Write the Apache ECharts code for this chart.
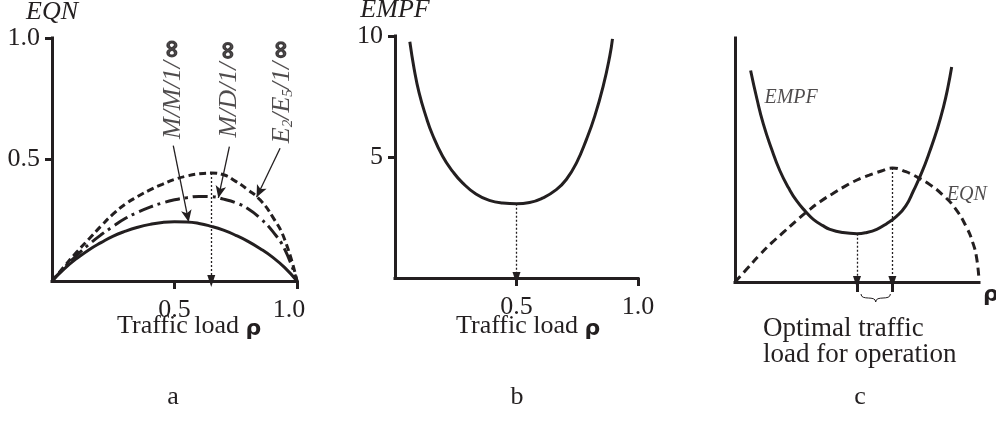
<!DOCTYPE html>
<html>
<head>
<meta charset="utf-8">
<script src="https://cdn.jsdelivr.net/npm/echarts@6/dist/echarts.min.js"></script>
<style>
  html, body { margin: 0; padding: 0; background: #ffffff; }
  #chart { width: 996px; height: 421px; }
</style>
</head>
<body>
<div id="chart"></div>
<script>
// ---- Panel a: expected queue number (EQN) vs. traffic load for three queue models
const loadA = [0, 0.05, 0.1, 0.15, 0.2, 0.25, 0.3, 0.35, 0.4, 0.45, 0.5,
               0.55, 0.6, 0.65, 0.7, 0.75, 0.8, 0.85, 0.9, 0.95, 1.0];
const eqnMM1 = [0, 0.05, 0.092, 0.128, 0.158, 0.185, 0.205, 0.221, 0.233, 0.241, 0.244,
                0.243, 0.237, 0.225, 0.209, 0.188, 0.163, 0.133, 0.098, 0.055, 0];
const eqnMD1 = [0, 0.055, 0.105, 0.15, 0.19, 0.225, 0.258, 0.283, 0.304, 0.321, 0.334,
                0.343, 0.348, 0.347, 0.337, 0.322, 0.297, 0.258, 0.205, 0.13, 0];
const eqnE2E5 = [0, 0.06, 0.118, 0.172, 0.226, 0.276, 0.317, 0.348, 0.375, 0.398, 0.418,
                 0.432, 0.441, 0.444, 0.437, 0.41, 0.375, 0.333, 0.265, 0.17, 0];
const ticksAx = [0.5, 1.0];
const ticksAy = [0.5, 1.0];
const modelLabels = [
  '{it|M/M/1/}{inf|∞}',
  '{it|M/D/1/}{inf|∞}',
  '{it|E}{sub|2}{it|/E}{sub|5}{it|/1/}{inf|∞}'
];
// where each rotated model label sits, and the pointer from it to its curve
const labelAnchorsA = [[0.494, 0.79], [0.722, 0.79], [0.939, 0.78]];
const pointerFromA = [[0.495, 0.557], [0.724, 0.553], [0.931, 0.546]];
const pointerToA = [[0.558, 0.243], [0.679, 0.342], [0.835, 0.345]];

// ---- Panel b: EMPF vs. traffic load
const loadB = [0.061, 0.079, 0.099, 0.127, 0.154, 0.196, 0.237, 0.278, 0.333, 0.388, 0.443,
               0.5, 0.554, 0.609, 0.664, 0.705, 0.747, 0.788, 0.822, 0.857, 0.884, 0.895];
const empfB = [9.76, 8.63, 7.66, 6.69, 5.93, 5.03, 4.41, 3.93, 3.47, 3.21, 3.10,
               3.07, 3.12, 3.31, 3.65, 4.07, 4.76, 5.73, 6.69, 7.94, 9.18, 9.88];
const ticksBx = [0.5, 1.0];
const ticksBy = [5, 10];

// ---- Panel c: both measures together (relative scale)
const loadCempf = [0.064, 0.09, 0.116, 0.15, 0.184, 0.22, 0.253, 0.29, 0.321, 0.36, 0.389, 0.44, 0.5,
                   0.54, 0.581, 0.62, 0.663, 0.70, 0.731, 0.765, 0.799, 0.83, 0.854, 0.872, 0.888];
const empfC = [0.867, 0.75, 0.648, 0.545, 0.456, 0.385, 0.332, 0.288, 0.257, 0.231, 0.216, 0.203, 0.198,
               0.203, 0.216, 0.238, 0.27, 0.312, 0.373, 0.448, 0.538, 0.63, 0.716, 0.795, 0.881];
const loadCeqn = [0, 0.05, 0.1, 0.15, 0.2, 0.25, 0.3, 0.35, 0.4, 0.45, 0.5, 0.55, 0.6, 0.645,
                  0.7, 0.75, 0.8, 0.85, 0.9, 0.95, 0.975, 0.99, 1.0];
const eqnC = [0, 0.055, 0.11, 0.16, 0.205, 0.25, 0.292, 0.33, 0.362, 0.392, 0.418, 0.438, 0.455, 0.467,
              0.452, 0.428, 0.398, 0.358, 0.305, 0.222, 0.16, 0.1, 0.01];
const curveNotesC = ['EMPF', 'EQN'];
const noteAnchorsC = [[0.23, 0.756], [0.95, 0.357]];

const ink = '#231f20';
const serif = '"Liberation Serif", "Times New Roman", serif';
const sans = '"DejaVu Sans", "Liberation Sans", Arial, sans-serif';

const zip = (xs, ys) => xs.map((x, i) => [x, ys[i]]);
const argExt = (ys, cmp) => ys.reduce((best, v, i) => (cmp(v, ys[best]) ? i : best), 0);

const iPeakA = argExt(eqnE2E5, (a, b) => a > b);
const peakA = [loadA[iPeakA], eqnE2E5[iPeakA]];
const iMinB = argExt(empfB, (a, b) => a < b);
const minB = [loadB[iMinB], empfB[iMinB]];
const iMinC = argExt(empfC, (a, b) => a < b);
const minC = [loadCempf[iMinC], empfC[iMinC]];
const iPeakC = argExt(eqnC, (a, b) => a > b);
const peakC = [loadCeqn[iPeakC], eqnC[iPeakC]];
const optimumC = [minC[0], peakC[0]];

// the last x label of panel a sits a little inside the axis end
const tickLabelA = v => (v === 1 ? '{end|' + v.toFixed(1) + '}' : v.toFixed(1));

function xAxisCfg(gridIndex, max, ticks, showLabels, fmt, extra) {
  return Object.assign({
    type: 'value', gridIndex, min: 0, max,
    axisLine: { show: true, onZero: false, lineStyle: { color: ink, width: 3, cap: 'square' } },
    axisTick: { show: true, length: 8, customValues: ticks, lineStyle: { color: ink, width: 3 } },
    axisLabel: {
      show: showLabels, customValues: ticks, margin: 16,
      formatter: fmt,
      fontFamily: serif, fontSize: 26, color: ink,
      rich: { end: { fontFamily: serif, fontSize: 26, color: ink, padding: [0, 16, 0, 0] } }
    },
    splitLine: { show: false }
  }, extra || {});
}

function yAxisCfg(gridIndex, max, ticks, fmt, name) {
  return {
    type: 'value', gridIndex, min: 0, max,
    name: name, nameLocation: 'end', nameGap: 7,
    nameTextStyle: { fontFamily: serif, fontStyle: 'italic', fontSize: 26, color: ink, align: 'center' },
    axisLine: { show: true, onZero: false, lineStyle: { color: ink, width: 3, cap: 'square' } },
    axisTick: { show: ticks.length > 0, length: 7, customValues: ticks, lineStyle: { color: ink, width: 3 } },
    axisLabel: {
      show: ticks.length > 0, customValues: ticks, margin: 12,
      formatter: fmt, fontFamily: serif, fontSize: 26, color: ink
    },
    splitLine: { show: false }
  };
}

const curveLine = (type) => ({ color: ink, width: 3, type });

const dropLine = (pt) => ({
  silent: true, animation: false,
  symbol: ['none', 'triangle'], symbolSize: [8, 12],
  lineStyle: { color: ink, width: 1.3, type: [2, 2] },
  label: { show: false },
  data: [[{ coord: pt }, { coord: [pt[0], 0] }]]
});

const loadText = {
  text: '{t|Traffic load }{r|ρ}', verticalAlign: 'middle',
  rich: {
    t: { fontFamily: serif, fontSize: 26, fill: ink },
    r: { fontFamily: sans, fontWeight: 'bold', fontSize: 22, fill: ink, padding: [6, 0, 0, 0] }
  }
};

const option = {
  backgroundColor: '#ffffff',
  animation: false,
  grid: [
    { left: 52, top: 38, width: 245, height: 243, outerBoundsMode: 'none' },
    { left: 395, top: 36, width: 243, height: 242, outerBoundsMode: 'none' },
    { left: 735, top: 38, width: 244, height: 244, outerBoundsMode: 'none' }
  ],
  xAxis: [
    xAxisCfg(0, 1, ticksAx, true, tickLabelA),
    xAxisCfg(1, 1, ticksBx, true, v => v.toFixed(1)),
    xAxisCfg(2, 1, optimumC, false, null, {
      axisTick: { show: true, length: 10, customValues: optimumC, lineStyle: { color: ink, width: 3 } },
      name: 'ρ', nameLocation: 'end', nameGap: 4,
      nameTextStyle: { fontFamily: sans, fontWeight: 'bold', fontSize: 22, color: ink,
        verticalAlign: 'top', padding: [2, 0, 0, 0] }
    })
  ],
  yAxis: [
    yAxisCfg(0, 1, ticksAy, v => v.toFixed(1), 'EQN'),
    yAxisCfg(1, 10, ticksBy, v => String(v), 'EMPF'),
    yAxisCfg(2, 1, [], null, '')
  ],
  series: [
    // panel a
    { type: 'line', name: 'M/M/1/∞', xAxisIndex: 0, yAxisIndex: 0, data: zip(loadA, eqnMM1),
      smooth: true, showSymbol: false, lineStyle: curveLine('solid') },
    { type: 'line', name: 'M/D/1/∞', xAxisIndex: 0, yAxisIndex: 0, data: zip(loadA, eqnMD1),
      smooth: true, showSymbol: false, lineStyle: curveLine([15, 5, 3, 5]) },
    { type: 'line', name: 'E2/E5/1/∞', xAxisIndex: 0, yAxisIndex: 0, data: zip(loadA, eqnE2E5),
      smooth: true, showSymbol: false, lineStyle: curveLine([7, 4]), markLine: dropLine(peakA) },
    { type: 'scatter', name: 'models', xAxisIndex: 0, yAxisIndex: 0, symbolSize: 0, silent: true,
      data: modelLabels.map((t, i) => ({ value: labelAnchorsA[i], label: { formatter: t } })),
      label: {
        show: true, position: 'inside', rotate: 90,
        rich: {
          it: { fontFamily: serif, fontStyle: 'italic', fontSize: 26, color: ink },
          sub: { fontFamily: serif, fontStyle: 'italic', fontSize: 15, color: ink, padding: [12, 0, 0, 0] },
          inf: { fontFamily: sans, fontWeight: 'bold', fontSize: 24, color: ink,
                 textBorderColor: ink, textBorderWidth: 1.2, padding: [0, 0, 0, 2] }
        }
      },
      markLine: {
        silent: true, animation: false,
        symbol: ['none', 'arrow'], symbolSize: [8, 12],
        lineStyle: { color: ink, width: 1.3, type: 'solid' },
        label: { show: false },
        data: pointerFromA.map((f, i) => [{ coord: f }, { coord: pointerToA[i] }])
      }
    },
    // panel b
    { type: 'line', name: 'EMPF', xAxisIndex: 1, yAxisIndex: 1, data: zip(loadB, empfB),
      smooth: true, showSymbol: false, lineStyle: curveLine('solid'), markLine: dropLine(minB) },
    // panel c
    { type: 'line', name: 'EMPF c', xAxisIndex: 2, yAxisIndex: 2, data: zip(loadCempf, empfC),
      smooth: true, showSymbol: false, lineStyle: curveLine('solid'), markLine: dropLine(minC) },
    { type: 'line', name: 'EQN c', xAxisIndex: 2, yAxisIndex: 2, data: zip(loadCeqn, eqnC),
      smooth: true, showSymbol: false, lineStyle: curveLine([8, 5]), markLine: dropLine(peakC) },
    { type: 'scatter', name: 'notes c', xAxisIndex: 2, yAxisIndex: 2, symbolSize: 0, silent: true,
      data: curveNotesC.map((t, i) => ({ value: noteAnchorsC[i], label: { formatter: t } })),
      label: { show: true, position: 'inside', fontFamily: serif, fontStyle: 'italic', fontSize: 20, color: ink }
    }
  ],
  graphic: [
    { type: 'text', x: 117, y: 326, style: loadText },
    { type: 'text', x: 456, y: 326, style: loadText },
    { type: 'text', x: 763, y: 316, style: { text: 'Optimal traffic\nload for operation', fontFamily: serif,
      fontSize: 27, lineHeight: 26, fill: ink, verticalAlign: 'top' } },
    { type: 'text', x: 173, y: 397, style: { text: 'a', fontFamily: serif, fontSize: 26, fill: ink, align: 'center', verticalAlign: 'middle' } },
    { type: 'text', x: 517, y: 397, style: { text: 'b', fontFamily: serif, fontSize: 26, fill: ink, align: 'center', verticalAlign: 'middle' } },
    { type: 'text', x: 860, y: 397, style: { text: 'c', fontFamily: serif, fontSize: 26, fill: ink, align: 'center', verticalAlign: 'middle' } }
  ]
};

const chart = echarts.init(document.getElementById('chart'), null, { renderer: 'canvas' });
chart.setOption(option);

// brace under the optimal range on panel c
const pL = chart.convertToPixel({ gridIndex: 2 }, [optimumC[0], 0]);
const pR = chart.convertToPixel({ gridIndex: 2 }, [optimumC[1], 0]);
const x1 = pL[0] + 4, x2 = pR[0] - 2, xm = (x1 + x2) / 2, y0 = pL[1] + 12, h = 4;
const braceStyle = { stroke: ink, lineWidth: 1, fill: null };
chart.setOption({
  graphic: option.graphic.concat([
    { type: 'bezierCurve', silent: true, style: braceStyle,
      shape: { x1: x1, y1: y0, cpx1: x1, cpy1: y0 + 1.8 * h, cpx2: xm, cpy2: y0 + 0.2 * h, x2: xm, y2: y0 + 2 * h } },
    { type: 'bezierCurve', silent: true, style: braceStyle,
      shape: { x1: x2, y1: y0, cpx1: x2, cpy1: y0 + 1.8 * h, cpx2: xm, cpy2: y0 + 0.2 * h, x2: xm, y2: y0 + 2 * h } }
  ])
});
</script>
</body>
</html>
